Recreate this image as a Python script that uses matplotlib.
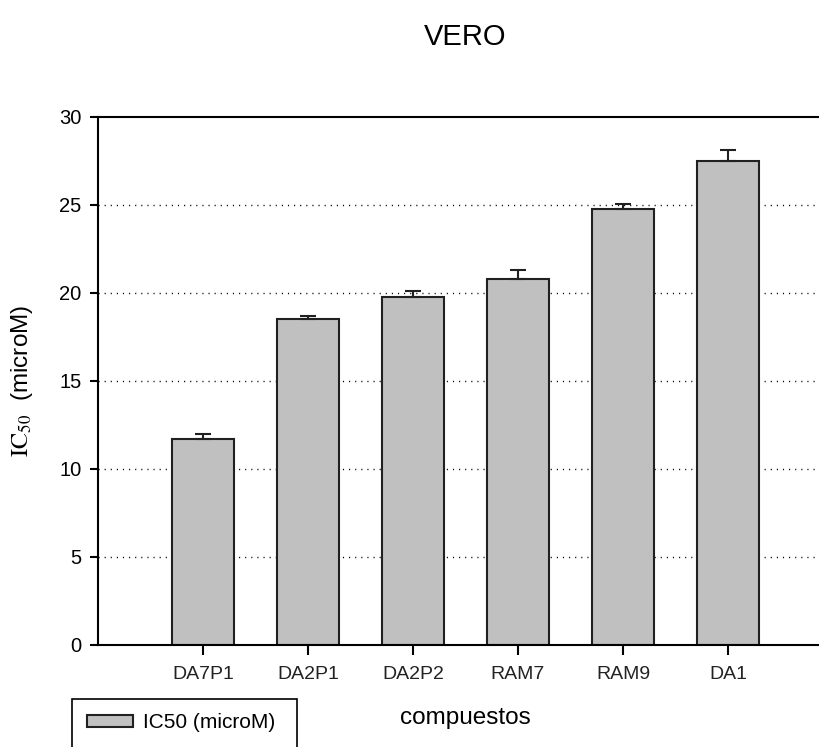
import matplotlib
matplotlib.use("Agg")
import matplotlib.pyplot as plt
from matplotlib.patches import Rectangle

# ----- data -----
compuestos = ["DA7P1", "DA2P1", "DA2P2", "RAM7", "RAM9", "DA1"]
ic50 = [11.7, 18.5, 19.8, 20.8, 24.75, 27.5]
err_up = [0.3, 0.2, 0.3, 0.5, 0.3, 0.6]
y_ticks = [0, 5, 10, 15, 20, 25, 30]

plt.rcParams["font.family"] = ["Liberation Sans", "DejaVu Sans"]
plt.rcParams["mathtext.fontset"] = "stix"

W, H = 820, 747
fig = plt.figure(figsize=(W / 100, H / 100), dpi=100)
ax = fig.add_axes([98 / W, 102 / H, 735 / W, 528 / H])

pos = list(range(1, len(compuestos) + 1))
for y in y_ticks[1:-1]:
    ax.axhline(y, color="black", lw=1.0, ls=(0, (0.8, 3.6)), zorder=0)

bars = ax.bar(pos, ic50, width=0.59, color="#c0c0c0", edgecolor="#202020",
              linewidth=1.5, zorder=2, label="IC50 (microM)")
ax.errorbar(pos, ic50, yerr=[[0] * len(ic50), err_up], fmt="none",
            ecolor="#202020", elinewidth=1.5, capsize=6, capthick=1.5, zorder=3)

ax.set_xlim(0, 7)
ax.set_ylim(0, 30)
ax.set_yticks(y_ticks)
ax.set_xticks(pos)
ax.set_xticklabels(compuestos, fontsize=14, color="#222222")
ax.tick_params(axis="y", direction="out", length=6, width=1.5, labelsize=14.5, pad=6)
ax.tick_params(axis="x", direction="out", length=7, width=1.5, pad=8)
for s in ("left", "bottom", "top"):
    ax.spines[s].set_linewidth(1.5)
ax.spines["right"].set_visible(False)

ax.set_title("VERO", fontsize=21, pad=52)
ax.set_xlabel("compuestos", fontsize=17.5, va="center")
ax.xaxis.set_label_coords(0.5, -(718 - 645) / 528)
ax.set_ylabel(r"$\mathrm{IC}_{50}$  (microM)", fontsize=17.5, va="center")
ax.yaxis.set_label_coords((22 - 98) / 735, 0.5)

# legend box in the bottom-left corner (cut off by the figure edge)
fig.patches.append(Rectangle((72 / W, -0.05), (297 - 72) / W, 0.05 + (747 - 699) / H,
                             transform=fig.transFigure, fill=False,
                             edgecolor="black", linewidth=1.2))
fig.legend(handles=[bars], labels=["IC50 (microM)"], loc="center left",
           bbox_to_anchor=(87 / W, 1 - 723 / H), frameon=False, fontsize=15,
           borderpad=0, borderaxespad=0, handlelength=2.2, handleheight=0.5,
           handletextpad=0.5)

fig.savefig("out.png", dpi=100)
